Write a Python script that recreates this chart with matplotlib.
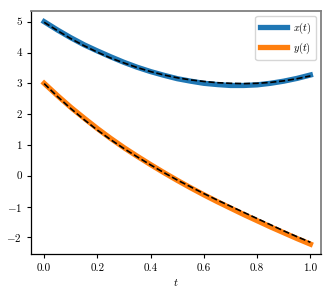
import matplotlib
matplotlib.use("Agg")
import matplotlib.pyplot as plt

plt.rcParams['mathtext.fontset'] = 'cm'
plt.rcParams['font.family'] = 'serif'
plt.rcParams['font.serif'] = ['cmr10', 'DejaVu Serif']
plt.rcParams['axes.formatter.use_mathtext'] = True

t = [0.00, 0.05, 0.10, 0.15, 0.20, 0.25, 0.30, 0.35, 0.40, 0.45, 0.50,
     0.55, 0.60, 0.65, 0.70, 0.75, 0.80, 0.85, 0.90, 0.95, 1.00]
x_true = [5.00, 4.73, 4.48, 4.25, 4.05, 3.86, 3.68, 3.52, 3.38, 3.26, 3.15,
          3.07, 3.00, 2.96, 2.93, 2.93, 2.95, 3.00, 3.07, 3.16, 3.27]
y_true = [3.00, 2.60, 2.22, 1.87, 1.53, 1.21, 0.91, 0.63, 0.36, 0.10, -0.15,
          -0.39, -0.62, -0.84, -1.05, -1.26, -1.46, -1.66, -1.85, -2.04, -2.22]
x_approx = [4.98, 4.71, 4.45, 4.22, 4.01, 3.82, 3.66, 3.51, 3.38, 3.27, 3.18,
            3.11, 3.06, 3.02, 3.00, 2.99, 3.00, 3.03, 3.08, 3.15, 3.24]
y_approx = [2.99, 2.57, 2.18, 1.82, 1.48, 1.17, 0.88, 0.61, 0.35, 0.10, -0.14,
            -0.36, -0.58, -0.79, -0.99, -1.19, -1.39, -1.59, -1.79, -1.98, -2.16]

fig = plt.figure(figsize=(3.32, 2.95), dpi=100)
ax = fig.add_axes([0.093, 0.139, 0.874, 0.824])

ax.plot(t, x_true, color='#1f77b4', lw=3.8, label='$x(t)$', solid_capstyle='projecting')
ax.plot(t, y_true, color='#ff7f0e', lw=3.8, label='$y(t)$', solid_capstyle='projecting')
ax.plot(t, x_approx, color='black', lw=1.2, ls='--')
ax.plot(t, y_approx, color='black', lw=1.2, ls='--')

ax.set_xlim(-0.05, 1.04)
ax.set_ylim(-2.54, 5.35)
ax.set_xticks([0.0, 0.2, 0.4, 0.6, 0.8, 1.0])
ax.set_xticklabels(['0.0', '0.2', '0.4', '0.6', '0.8', '1.0'])
ax.set_yticks([-2, -1, 0, 1, 2, 3, 4, 5])
ax.set_yticklabels(['$-2$', '$-1$', '0', '1', '2', '3', '4', '5'])
ax.tick_params(labelsize=8, length=3, width=0.8)
ax.set_xlabel('$t$', fontsize=8, labelpad=3)
for s in ['top', 'right']:
    ax.spines[s].set_color('#808080')
    ax.spines[s].set_linewidth(1.3)
for s in ['left', 'bottom']:
    ax.spines[s].set_color('black')
    ax.spines[s].set_linewidth(0.9)
ax.legend(loc='upper right', fontsize=7.5, handlelength=2.6, handletextpad=0.6)

fig.savefig('out.png', dpi=100)
